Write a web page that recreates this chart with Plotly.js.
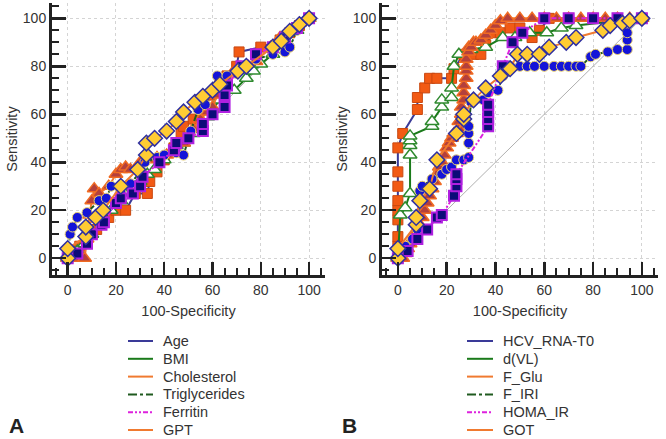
<!DOCTYPE html>
<html>
<head>
<meta charset="utf-8">
<script src="https://cdn.plot.ly/plotly-3.0.1.min.js"></script>
<style>
  html, body { margin: 0; padding: 0; background: #fff; }
  #chart { width: 666px; height: 439px; }
</style>
</head>
<body>
<div id="chart"></div>
<script>
// Panel A series (100-Specificity, Sensitivity)
const ageAX = [0, 3, 5, 8, 10, 12, 15, 17, 20, 24, 28, 33, 34, 37, 40, 44, 47, 48, 52, 56, 60, 63, 66, 70, 71, 80, 88, 92, 96, 100];
const ageAY = [0, 3, 5, 8, 10, 12, 15, 17, 20, 20, 27, 27, 32, 36, 41, 46, 52, 55, 58, 63, 68, 72, 76, 80, 86, 88, 91, 94, 97, 100];
const bmiAX = [0, 4, 7, 10, 14, 18, 22, 26, 30, 33, 36, 40, 45, 48, 52, 58, 60, 63, 66, 69, 74, 77, 80, 85, 90, 95, 100];
const bmiAY = [0, 3, 6, 10, 15, 20, 24, 28, 32, 35, 37, 41, 47, 48, 52, 59, 62, 66, 70, 70, 75, 78, 81, 85, 89, 95, 100];
const cholAX = [0, 5, 7, 8, 9, 10, 11, 13, 17, 20, 22, 24, 26, 30, 33, 37, 41, 45, 48, 52, 55, 58, 60, 62, 64, 68, 72, 78, 84, 88, 92, 96, 100];
const cholAY = [0, 0, 0, 8, 18, 24, 29, 27, 30, 35, 37, 38, 37, 40, 41, 42, 43, 45, 48, 54, 58, 61, 63, 68, 73, 77, 79, 82, 88, 92, 95, 98, 100];
const trigAX = [0, 1, 2, 4, 8, 13, 16, 18, 22, 26, 30, 32, 37, 40, 45, 48, 51, 54, 57, 60, 62, 66, 70, 78, 85, 90, 92, 95, 100];
const trigAY = [0, 10, 13, 17, 19, 24, 25, 30, 28, 31, 36, 40, 42, 43, 44, 43, 53, 62, 64, 70, 76, 76, 77, 83, 85, 86, 88, 95, 100];
const ferAX = [0, 4, 8, 10, 14, 15, 20, 22, 27, 30, 31, 38, 44, 45, 50, 56, 56, 60, 65, 65, 66, 72, 78, 85, 90, 95, 100];
const ferAY = [0, 2, 6, 10, 14, 15, 23, 25, 27, 30, 34, 40, 45, 48, 50, 53, 56, 60, 63, 68, 72, 80, 85, 88, 92, 96, 100];
const gptAX = [0, 0, 7.5, 7.5, 11.6, 14.7, 22, 29, 32.6, 32.6, 36, 41, 45, 48, 52.7, 56, 60, 63, 70.5, 74, 85, 88.5, 92, 96, 100];
const gptAY = [0, 4, 9, 13, 17, 20, 30, 37, 43, 48, 50, 53, 57, 61, 65, 67.5, 70, 72.5, 78, 80, 88, 90.5, 94.6, 97.4, 100];

// Panel B series
const hcvBX = [0, 0, 0, 0, 0, 0, 0, 0, 0, 2, 8, 8, 11, 13, 16, 22, 23, 27, 31, 34, 36, 39, 42, 46, 50, 55, 58, 62, 70, 80, 90, 100];
const hcvBY = [0, 5, 9, 16, 20, 24, 30, 36, 46, 52, 62, 67, 71, 75, 75, 75, 79, 85, 85, 85, 89, 94, 94, 96, 96, 92, 95, 100, 100, 100, 100, 100];
const dvlBX = [0, 1, 3, 5, 5, 5, 5, 5, 14, 14, 18, 18, 22, 22, 23, 25, 30, 36, 43, 48, 54, 61, 67, 73, 100];
const dvlBY = [0, 18, 21, 27, 43, 47, 49, 51, 55, 57, 63, 66, 67, 71, 80, 85, 87, 88, 92, 92, 94, 94, 96, 97, 100];
const gluBX = [0, 2, 3, 4, 5, 6, 7, 8, 9, 10, 11, 12, 13, 14, 15, 16, 17, 18, 19, 20, 21, 22, 23, 24, 25, 25, 26, 26, 27, 27, 27, 28, 28, 28, 28, 29, 29, 30, 31, 32, 34, 36, 38, 40, 42, 45, 50, 55, 60, 65, 70, 75, 80, 85, 90, 95, 100];
const gluBY = [0, 0, 2, 4, 6, 8, 10, 12, 14, 17, 20, 23, 26, 29, 32, 35, 38, 40, 43, 46, 48, 50, 52, 52, 54, 57, 60, 63, 66, 69, 72, 75, 78, 80, 83, 86, 88, 88, 90, 90, 91, 93, 95, 97, 99, 100, 100, 100, 100, 100, 100, 100, 100, 100, 100, 100, 100];
const iriBX = [0, 3, 6, 8, 9, 10, 14, 18, 20, 22, 24, 27, 29, 29, 29, 29, 30, 35, 37, 41, 43, 46, 50, 53, 56, 60, 64, 67, 70, 73, 75, 79, 81, 86, 90, 94, 94, 94, 95, 100];
const iriBY = [0, 5, 8, 12, 28, 30, 33, 35, 37, 38, 41, 41, 42, 48, 52, 55, 65, 66, 69, 70, 76, 80, 80, 80, 80, 80, 80, 80, 80, 80, 80, 84, 85, 86, 87, 87, 91, 94, 99, 100];
const homaBX = [0, 4, 8, 12, 16, 18, 23, 24, 24, 24, 37, 37, 37, 37, 43, 47, 51, 60, 70, 80, 90, 100];
const homaBY = [0, 3, 8, 12, 17, 18, 26, 30, 33, 35, 55, 58, 61, 64, 80, 90, 94, 100, 100, 100, 100, 100];
const gotBX = [0, 0, 7.5, 7.5, 9, 13, 16, 24, 27, 27, 31, 36, 42, 46, 49, 53, 58, 62, 69, 73, 84, 87, 92, 95, 100];
const gotBY = [0, 4, 14, 17, 24, 29, 41, 52, 58, 60, 66, 71, 76, 79, 85, 85, 85, 88, 90, 92, 95, 97, 98, 99, 100];

const diagX = [0, 100];
const diagY = [0, 100];

const namesA = ['Age', 'BMI', 'Cholesterol', 'Triglycerides', 'Ferritin', 'GPT'];
const namesB = ['HCV_RNA-T0', 'd(VL)', 'F_Glu', 'F_IRI', 'HOMA_IR', 'GOT'];

const majorTicks = [0, 20, 40, 60, 80, 100];
const minorTicks = [-5, 5, 10, 15, 25, 30, 35, 45, 50, 55, 65, 70, 75, 85, 90, 95, 105];

// line + marker styles, same order in both panels
const styles = [
  { line: { color: '#3a3a98', width: 2 }, marker: { symbol: 'square', size: 10, color: '#f25a14', line: { color: '#c94810', width: 1 } } },
  { line: { color: '#1a7a1a', width: 2 }, marker: { symbol: 'triangle-up', size: 12, color: '#ffffff', line: { color: '#2f8a2f', width: 1.5 } } },
  { line: { color: '#f07a30', width: 2 }, marker: { symbol: 'triangle-up', size: 12, color: '#b4403c', line: { color: '#f06a22', width: 1.5 } } },
  { line: { color: '#1f5a1f', width: 2, dash: 'dashdot' }, marker: { symbol: 'circle', size: 10, color: '#1414d8', line: { color: '#e8d070', width: 1 } } },
  { line: { color: '#dd22dd', width: 2, dash: '5px,2px,2px,2px,2px,2px' }, marker: { symbol: 'square', size: 10, color: '#0c0c78', line: { color: '#b020e0', width: 2 } } },
  { line: { color: '#f07a30', width: 2 }, marker: { symbol: 'diamond', size: 12, color: '#ffcc33', line: { color: '#3030a0', width: 1.5 } } }
];

function buildPanel(series, names, xa, ya) {
  const traces = [{
    x: diagX, y: diagY, xaxis: xa, yaxis: ya, mode: 'lines',
    line: { color: '#b0b0b0', width: 1 }, showlegend: false, hoverinfo: 'skip'
  }];
  series.forEach((s, i) => {
    traces.push({
      x: s[0], y: s[1], xaxis: xa, yaxis: ya, mode: 'lines+markers',
      name: names[i], line: styles[i].line, marker: styles[i].marker,
      showlegend: false
    });
  });
  return traces;
}

const data = buildPanel(
  [[ageAX, ageAY], [bmiAX, bmiAY], [cholAX, cholAY], [trigAX, trigAY], [ferAX, ferAY], [gptAX, gptAY]],
  namesA, 'x', 'y'
).concat(buildPanel(
  [[hcvBX, hcvBY], [dvlBX, dvlBY], [gluBX, gluBY], [iriBX, iriBY], [homaBX, homaBY], [gotBX, gotBY]],
  namesB, 'x2', 'y2'
));

const fontFam = 'Liberation Sans, Arial, sans-serif';
const M = { l: 52, r: 8, t: 3, b: 164 };
const W = 666, H = 439;
// pixel -> paper helpers for the legend block and panel letters
const px = v => (v - M.l) / (W - M.l - M.r);
const py = v => 1 - (v - M.t) / (H - M.t - M.b);

function xAxis(domain, anchor) {
  return {
    domain: domain, anchor: anchor, range: [-6.5, 106.6],
    tickvals: majorTicks,
    ticks: 'inside', ticklen: 13, tickwidth: 2.5, tickcolor: '#222',
    minor: { tickvals: minorTicks, ticks: 'inside', ticklen: 7, tickwidth: 2, tickcolor: '#222', showgrid: false },
    showline: true, linewidth: 3, linecolor: '#222',
    showgrid: true, gridcolor: '#d4d4d4', gridwidth: 1, griddash: 'dot',
    zeroline: false,
    tickfont: { size: 14, color: '#333' },
    title: { text: '100-Specificity', font: { size: 14.5, color: '#333' }, standoff: 10 }
  };
}
function yAxis(anchor) {
  return {
    domain: [0, 1], anchor: anchor, range: [-7, 106.4],
    tickvals: majorTicks,
    ticks: 'inside', ticklen: 14, tickwidth: 2.5, tickcolor: '#222',
    minor: { tickvals: minorTicks, ticks: 'inside', ticklen: 7, tickwidth: 2, tickcolor: '#222', showgrid: false },
    showline: true, linewidth: 3, linecolor: '#222',
    showgrid: true, gridcolor: '#d4d4d4', gridwidth: 1, griddash: 'dot',
    zeroline: false,
    tickfont: { size: 14, color: '#333' },
    title: { text: 'Sensitivity', font: { size: 14.5, color: '#333' }, standoff: 2 }
  };
}

// legend block drawn under each panel: line sample + label
const annotations = [];
const shapes = [];
function addLegend(names, lineX0, lineX1, textX) {
  names.forEach((n, i) => {
    const yy = py(341 + i * 17.8);
    shapes.push({
      type: 'line', xref: 'paper', yref: 'paper',
      x0: px(lineX0), x1: px(lineX1), y0: yy, y1: yy,
      line: { color: styles[i].line.color, width: 2, dash: styles[i].line.dash || 'solid' }
    });
    annotations.push({
      text: n, xref: 'paper', yref: 'paper', x: px(textX), y: yy,
      xanchor: 'left', yanchor: 'middle', showarrow: false,
      font: { size: 14.5, color: '#333' }
    });
  });
}
addLegend(namesA, 128, 153, 161);
addLegend(namesB, 467, 493, 501);

annotations.push(
  { text: '<b>A</b>', xref: 'paper', yref: 'paper', x: px(16), y: py(425), xanchor: 'center', yanchor: 'middle', showarrow: false, font: { size: 21, color: '#222' } },
  { text: '<b>B</b>', xref: 'paper', yref: 'paper', x: px(349), y: py(425), xanchor: 'center', yanchor: 'middle', showarrow: false, font: { size: 21, color: '#222' } }
);

const layout = {
  width: W, height: H,
  margin: Object.assign({ autoexpand: false }, M),
  paper_bgcolor: '#ffffff', plot_bgcolor: '#ffffff',
  font: { family: fontFam, color: '#333' },
  showlegend: false,
  xaxis: xAxis([0, px(325)], 'y'),
  yaxis: yAxis('x'),
  xaxis2: xAxis([px(382), px(658)], 'y2'),
  yaxis2: yAxis('x2'),
  annotations: annotations,
  shapes: shapes
};

Plotly.newPlot('chart', data, layout, { displayModeBar: false, staticPlot: true });
</script>
</body>
</html>
